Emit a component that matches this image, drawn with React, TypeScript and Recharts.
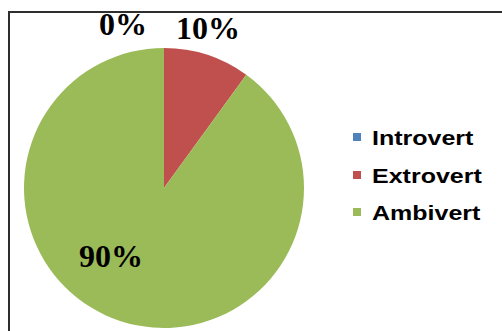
import { PieChart, Pie, Cell, Legend } from 'recharts';

const categories = ['Introvert', 'Extrovert', 'Ambivert'];
const shares = [0, 10, 90];
const colors = ['#4F81BD', '#C0504D', '#9BBB59'];
// label offsets from the pie centre (Excel "best fit" placement)
const labelOffsets = [
  { dx: -41, dy: -153 },
  { dx: 44, dy: -149 },
  { dx: -53, dy: 79 },
];

const data = categories.map((name, i) => ({ name, value: shares[i] }));

const renderLabel = (props: any) => {
  const { cx, cy, index, value } = props;
  const off = labelOffsets[index];
  return (
    <text
      x={cx + off.dx}
      y={cy + off.dy}
      textAnchor="middle"
      fill="#000"
      style={{ fontFamily: '"Liberation Serif", "Times New Roman", serif', fontWeight: 700, fontSize: 32 }}
    >
      {`${value}%`}
    </text>
  );
};

const renderLegend = () => (
  <div style={{ width: 140 }}>
    {categories.map((name, i) => (
      <div key={name} style={{ position: 'relative', height: 37.5, lineHeight: '37.5px' }}>
        <span
          style={{
            position: 'absolute',
            left: 0,
            top: 13,
            width: 8,
            height: 8,
            background: colors[i],
          }}
        />
        <span
          style={{
            position: 'absolute',
            left: 19,
            top: 0,
            fontFamily: '"Liberation Sans", Arial, sans-serif',
            fontWeight: 700,
            fontSize: 20,
            color: '#000',
            whiteSpace: 'nowrap',
            transform: 'scaleX(1.25)',
            transformOrigin: 'left center',
          }}
        >
          {name}
        </span>
      </div>
    ))}
  </div>
);

export default function App() {
  return (
    <div style={{ position: 'fixed', left: 0, top: 0, width: 502, height: 331, background: '#fff', overflow: 'hidden' }}>
      <div
        style={{
          position: 'absolute',
          left: 8,
          top: 11,
          width: 494,
          height: 320,
          borderTop: '2px solid #2e2e2e',
          borderLeft: '2px solid #2e2e2e',
          boxSizing: 'border-box',
        }}
      />
      <div style={{ position: 'absolute', left: 0, top: 0 }}>
        <PieChart width={502} height={331} margin={{ top: 0, right: 0, bottom: 0, left: 0 }}>
          <Pie
            data={data}
            dataKey="value"
            nameKey="name"
            cx={164}
            cy={188}
            outerRadius={140}
            startAngle={90}
            endAngle={-270}
            stroke="none"
            label={renderLabel}
            labelLine={false}
            isAnimationActive={false}
          >
            {data.map((d, i) => (
              <Cell key={d.name} fill={colors[i]} />
            ))}
          </Pie>
          <Legend
            layout="vertical"
            content={renderLegend}
            wrapperStyle={{ position: 'absolute', left: 353, top: 120, width: 140 }}
          />
        </PieChart>
      </div>
    </div>
  );
}
